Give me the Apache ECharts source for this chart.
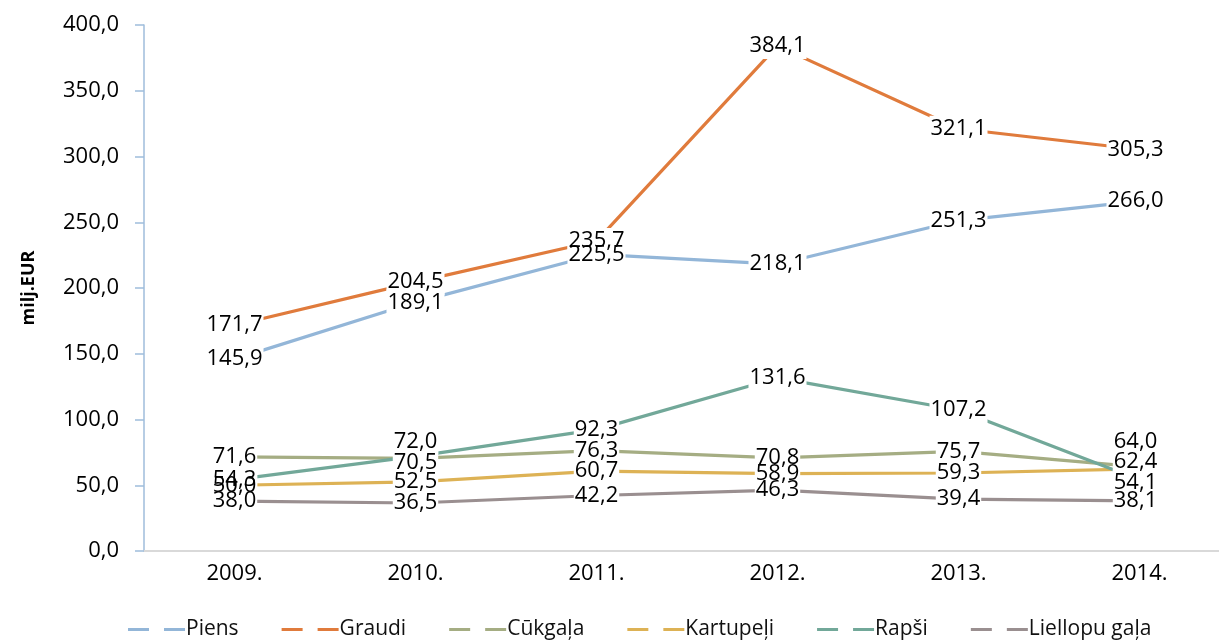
<!DOCTYPE html>
<html>
<head>
<meta charset="utf-8">
<script src="https://cdn.jsdelivr.net/npm/echarts@6/dist/echarts.min.js"></script>
<style>
html,body{margin:0;padding:0;background:#fff;}
#c{width:1219px;height:641px;}
</style>
</head>
<body>
<div id="c"></div>
<script>
const categories = ['2009.', '2010.', '2011.', '2012.', '2013.', '2014.'];
const yTicks = [0, 50, 100, 150, 200, 250, 300, 350, 400];
const seriesNames = ['Piens', 'Graudi', 'Cūkgaļa', 'Kartupeļi', 'Rapši', 'Liellopu gaļa'];
const piens = [145.9, 189.1, 225.5, 218.1, 251.3, 266.0];
const graudi = [171.7, 204.5, 235.7, 384.1, 321.1, 305.3];
const cukgala = [71.6, 70.5, 76.3, 70.8, 75.7, 64.0];
const kartupeli = [50.0, 52.5, 60.7, 58.9, 59.3, 62.4];
const rapsi = [54.3, 72.0, 92.3, 131.6, 107.2, 54.1];
const liellopu = [38.0, 36.5, 42.2, 46.3, 39.4, 38.1];

const values = [piens, graudi, cukgala, kartupeli, rapsi, liellopu];
const colors = ['#93B6D8', '#E07B3C', '#A5AD83', '#DDB255', '#72A899', '#9A8F90'];
// label nudges by series index -> {category index: dy} (layout only)
const labelShift = {
  2: {1: 4, 5: -25},
  3: {5: -7},
  4: {1: -15, 5: 3}
};
const FONT = 'Open Sans';
const fmt = v => Number(v).toFixed(1).replace('.', ',');
const TRANSP = 'rgba(0,0,0,0)';

function labelData(k, arr, base) {
  return arr.map((v, i) => {
    const dy = (labelShift[k] || {})[i] || 0;
    const dx = i === 5 ? -4 : 0;
    return {value: v, label: Object.assign({}, base, {offset: [dx, dy]})};
  });
}

const maskLabel = {show: true, position: 'inside', formatter: p => fmt(p.value),
  fontFamily: FONT, fontSize: 22, color: TRANSP,
  backgroundColor: '#ffffff', padding: [0, 1], lineHeight: 26};
const textLabel = {show: true, position: 'inside', formatter: p => fmt(p.value),
  fontFamily: FONT, fontSize: 22, color: '#000', padding: [0, 1], lineHeight: 26};

const series = [];
seriesNames.forEach((n, k) => {
  series.push({
    name: n, type: 'line', data: values[k], z: 2,
    showSymbol: false, symbol: 'circle',
    lineStyle: {color: colors[k], width: 3.2, cap: 'butt'},
    itemStyle: {color: colors[k]},
    emphasis: {disabled: true}, silent: true
  });
});
// white label boxes that cut lines (no text)
seriesNames.forEach((n, k) => {
  series.push({
    name: n, type: 'line', data: labelData(k, values[k], maskLabel), z: 3,
    symbol: 'circle', symbolSize: 1, showSymbol: true,
    lineStyle: {color: TRANSP, width: 0}, itemStyle: {color: TRANSP},
    label: maskLabel,
    emphasis: {disabled: true}, silent: true
  });
});
// label text on top
seriesNames.forEach((n, k) => {
  series.push({
    name: n, type: 'line', data: labelData(k, values[k], textLabel), z: 4,
    symbol: 'circle', symbolSize: 1, showSymbol: true,
    lineStyle: {color: TRANSP, width: 0}, itemStyle: {color: TRANSP},
    label: textLabel,
    emphasis: {disabled: true}, silent: true
  });
});

const chart = echarts.init(document.getElementById('c'), null, {renderer: 'canvas'});
chart.setOption({
  animation: false,
  backgroundColor: '#fff',
  grid: {left: 144, top: 25, width: 1086, height: 526, containLabel: false, outerBoundsMode: 'none'},
  legend: {
    data: seriesNames, left: 123, top: 614, width: 1150,
    itemWidth: 57, itemHeight: 4, itemGap: 43,
    icon: 'path://M0,0H21V3H0Z M36,0H57V3H36Z',
    textStyle: {fontFamily: FONT, fontSize: 21, color: '#111', padding: [0, 0, 0, -4]},
    selectedMode: false
  },
  xAxis: {
    type: 'category', data: categories, boundaryGap: true,
    axisLine: {lineStyle: {color: '#D9D9D9', width: 2}},
    axisTick: {show: false},
    axisLabel: {fontFamily: FONT, fontSize: 22, color: '#000', margin: 12}
  },
  yAxis: {
    type: 'value', min: yTicks[0], max: yTicks[yTicks.length - 1], interval: yTicks[1] - yTicks[0],
    name: 'milj.EUR', nameLocation: 'middle', nameGap: 106, nameRotate: 90,
    nameTextStyle: {fontFamily: FONT, fontSize: 18, fontWeight: 'bold', color: '#000'},
    axisLine: {show: true, lineStyle: {color: '#9FBDDB', width: 1.5}},
    axisTick: {show: true, length: 9, lineStyle: {color: '#9FBDDB', width: 1.5}},
    splitLine: {show: false},
    axisLabel: {fontFamily: FONT, fontSize: 22, color: '#000', margin: 25, formatter: v => fmt(v)}
  },
  series: series
});
</script>
</body>
</html>
